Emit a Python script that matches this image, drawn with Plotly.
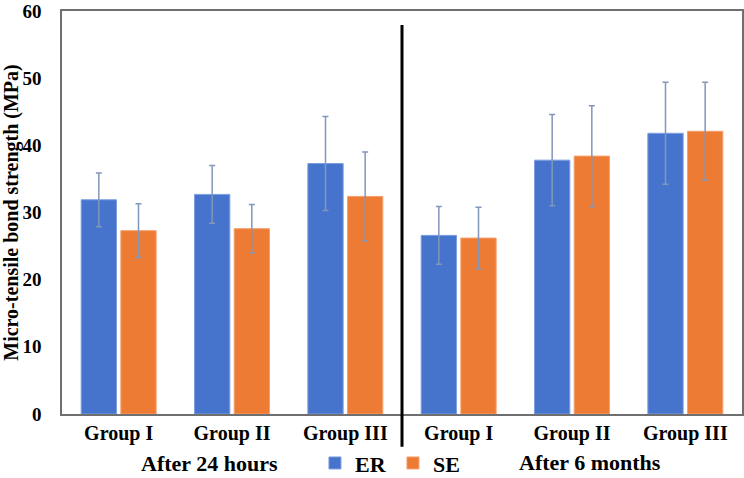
import plotly.graph_objects as go

categories = ["Group I", "Group II", "Group III", "Group I", "Group II", "Group III"]
periods = ["After 24 hours", "After 6 months"]
er_values = [31.9, 32.7, 37.3, 26.6, 37.8, 41.8]
er_sd = [4.0, 4.3, 7.0, 4.3, 6.8, 7.6]
se_values = [27.3, 27.6, 32.4, 26.2, 38.4, 42.1]
se_sd = [4.0, 3.6, 6.6, 4.6, 7.5, 7.3]
y_ticks = [0, 10, 20, 30, 40, 50, 60]

xpos = list(range(len(categories)))
FONT = "Liberation Serif, Times New Roman, serif"
err_style = dict(type="data", visible=True, color="#8197bb", thickness=1.5, width=3)

fig = go.Figure()
fig.add_trace(go.Bar(
    x=xpos, y=er_values, name="ER",
    marker=dict(color="#4673cc", line=dict(color="#7d9ee0", width=1)),
    error_y=dict(array=er_sd, **err_style),
))
fig.add_trace(go.Bar(
    x=xpos, y=se_values, name="SE",
    marker=dict(color="#ee7b33", line=dict(color="#f5a070", width=1)),
    error_y=dict(array=se_sd, **err_style),
))

fig.update_layout(
    width=744, height=478,
    margin=dict(l=62, r=2, t=11, b=64, autoexpand=False),
    paper_bgcolor="white", plot_bgcolor="white",
    font=dict(family=FONT, size=20, color="black", weight="bold"),
    barmode="group", bargap=0.30, bargroupgap=0.11,
    showlegend=True,
    legend=dict(orientation="h", x=0.372, xanchor="left", y=-0.122, yanchor="middle",
                font=dict(size=22, family=FONT, weight="bold"),
                entrywidth=33, entrywidthmode="pixels", bgcolor="rgba(0,0,0,0)"),
)
fig.update_xaxes(
    tickvals=xpos, ticktext=categories, range=[-0.5, len(categories) - 0.5],
    showline=True, linecolor="#6f6f6f", linewidth=1.5, mirror=True,
    ticks="", showgrid=False, zeroline=False,
    tickfont=dict(size=20, family=FONT, weight="bold"),
)
fig.update_yaxes(
    range=[0, 60.01], tickvals=y_ticks, ticklabeloverflow="allow",
    showline=True, linecolor="#6f6f6f", linewidth=1.5, mirror=True,
    ticks="", showgrid=False, zeroline=False, ticklabelstandoff=15,
    tickfont=dict(size=19, family=FONT, weight="bold"),
    title=dict(text="Micro-tensile bond strength (MPa)", standoff=3,
               font=dict(size=20, family=FONT, weight="bold")),
)

fig.add_shape(type="line", xref="x domain", yref="paper", x0=0.5, x1=0.5,
              y0=-0.081, y1=0.965, line=dict(color="black", width=3))

fig.add_annotation(text=periods[0], xref="paper", yref="paper", x=0.2176, y=-0.124,
                   showarrow=False, font=dict(size=22, family=FONT, weight="bold"),
                   xanchor="center", yanchor="middle")
fig.add_annotation(text=periods[1], xref="paper", yref="paper", x=0.776, y=-0.12,
                   showarrow=False, font=dict(size=22, family=FONT, weight="bold"),
                   xanchor="center", yanchor="middle")

fig.write_html("out.html")
